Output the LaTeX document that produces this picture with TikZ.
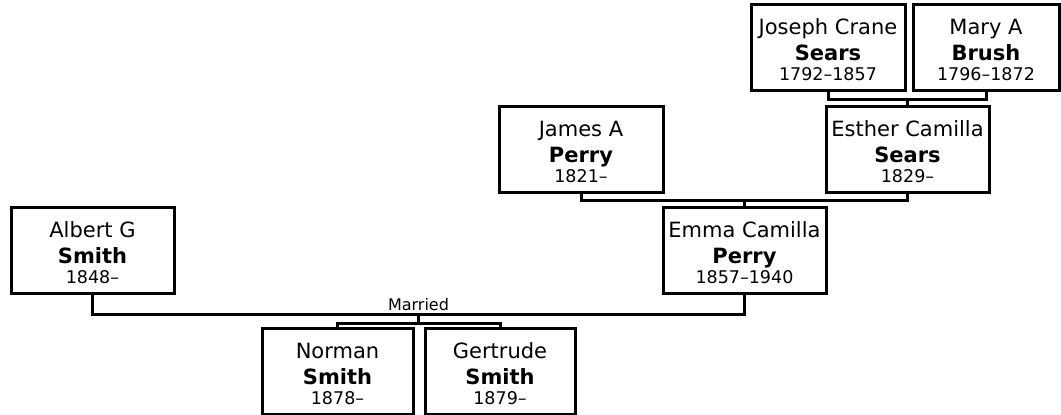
\documentclass[tikz,border=0pt]{standalone}
\usepackage{fontspec}
\setmainfont{DejaVu Sans}
\usetikzlibrary{calc}

\tikzset{
  person/.style={draw, line width=3pt, rectangle, minimum height=86pt,
    inner sep=0pt, align=center, text height=76pt, text depth=10pt,
    font=\fontsize{21}{26}\selectfont},
  link/.style={line width=3pt}
}
\newcommand{\lifespan}[1]{\fontsize{17.5}{20}\selectfont #1}

\begin{document}
\begin{tikzpicture}[x=1pt,y=-1pt]
  \useasboundingbox (0,0) rectangle (1061,415);
  \foreach \nm/\x/\y/\w/\first/\last/\dates in {
    joseph/828/47/154/{Joseph Crane}/Sears/1792–1857,
    mary/986/47/146/{Mary A}/Brush/1796–1872,
    james/581/149/164/{James A}/Perry/1821–,
    esther/907.5/149/163/{Esther Camilla}/Sears/1829–,
    emma/744.5/250/163/{Emma Camilla}/Perry/1857–1940,
    albert/92.5/250/163/{Albert G}/Smith/1848–,
    norman/337.5/371.5/151/Norman/Smith/1878–,
    gertrude/500/371.5/150/Gertrude/Smith/1879–
  }{
    \node[person, minimum width=\w pt] (\nm) at (\x,\y)
      {\first\\\textbf{\last}\\[-6pt]\lifespan{\dates}};
  }
  \coordinate (jm) at ($(joseph.south)!0.5!(mary.south)+(0,8)$);
  \draw[link] (joseph.south) |- (jm) -| (mary.south);
  \draw[link] (jm) -- (jm |- esther.north);
  \coordinate (je) at ($(james.south)!0.5!(esther.south)+(0,7)$);
  \draw[link] (james.south) |- (je) -| (esther.south);
  \draw[link] (je) -- (je |- emma.north);
  \coordinate (ae) at ($(albert.south)!0.5!(emma.south)+(0,20)$);
  \draw[link] (albert.south) |- (ae) -| (emma.south);
  \node[anchor=base, font=\fontsize{16}{16}\selectfont] (married)
    at ($(ae)+(0,-4)$) {Married};
  \coordinate (kids) at ($(ae)+(0,9)$);
  \draw[link] (ae) -- (kids);
  \draw[link] (norman.north) |- (kids) -| (gertrude.north);
\end{tikzpicture}
\end{document}
